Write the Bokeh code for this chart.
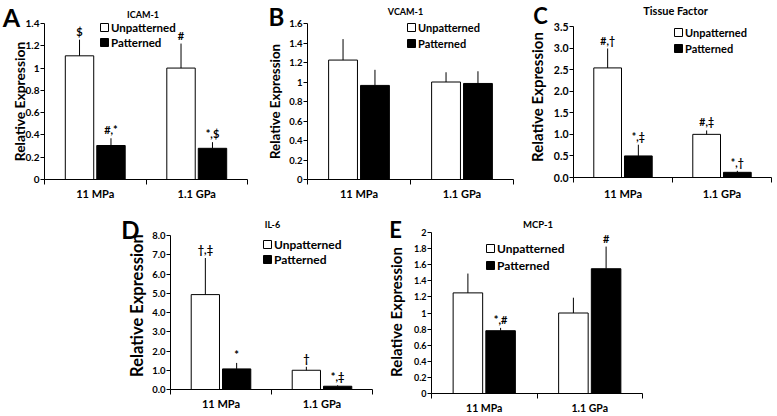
import math
from bokeh.plotting import figure
from bokeh.models import Range1d, FixedTicker, Label, Legend, LegendItem, Spacer
from bokeh.layouts import row, column
from bokeh.embed import file_html
from bokeh.resources import INLINE
from bokeh.core.properties import value

FONT = "Lato"

groups = ["11 MPa", "1.1 GPa"]
series = ["Unpatterned", "Patterned"]
ylab_text = "Relative Expression"

# A: ICAM-1
icam_unp = [1.11, 1.00]
icam_unp_err = [0.145, 0.22]
icam_pat = [0.305, 0.28]
icam_pat_err = [0.065, 0.055]
icam_unp_sig = ["$", "#"]
icam_pat_sig = ["#,*", "*,$"]
icam_yticks = [0, 0.2, 0.4, 0.6, 0.8, 1.0, 1.2, 1.4]
icam_ylabels = ["0", "0.2", "0.4", "0.6", "0.8", "1", "1.2", "1.4"]

# B: VCAM-1
vcam_unp = [1.225, 1.00]
vcam_unp_err = [0.215, 0.10]
vcam_pat = [0.965, 0.985]
vcam_pat_err = [0.16, 0.125]
vcam_unp_sig = ["", ""]
vcam_pat_sig = ["", ""]
vcam_yticks = [0, 0.2, 0.4, 0.6, 0.8, 1.0, 1.2, 1.4, 1.6]
vcam_ylabels = ["0", "0.2", "0.4", "0.6", "0.8", "1", "1.2", "1.4", "1.6"]

# C: Tissue Factor
tf_unp = [2.54, 1.00]
tf_unp_err = [0.45, 0.09]
tf_pat = [0.50, 0.12]
tf_pat_err = [0.26, 0.035]
tf_unp_sig = ["#,\u2020", "#,\u2021"]
tf_pat_sig = ["*,\u2021", "*,\u2020"]
tf_yticks = [0, 0.5, 1.0, 1.5, 2.0, 2.5, 3.0, 3.5]
tf_ylabels = ["0.0", "0.5", "1.0", "1.5", "2.0", "2.5", "3.0", "3.5"]

# D: IL-6
il6_unp = [4.93, 1.00]
il6_unp_err = [1.90, 0.18]
il6_pat = [1.07, 0.17]
il6_pat_err = [0.31, 0.05]
il6_unp_sig = ["\u2020,\u2021", "\u2020"]
il6_pat_sig = ["*", "*,\u2021"]
il6_yticks = [0, 1, 2, 3, 4, 5, 6, 7, 8]
il6_ylabels = ["0.0", "1.0", "2.0", "3.0", "4.0", "5.0", "6.0", "7.0", "8.0"]

# E: MCP-1
mcp_unp = [1.25, 1.00]
mcp_unp_err = [0.24, 0.19]
mcp_pat = [0.78, 1.55]
mcp_pat_err = [0.035, 0.275]
mcp_unp_sig = ["", ""]
mcp_pat_sig = ["*,#", "#"]
mcp_yticks = [0, 0.2, 0.4, 0.6, 0.8, 1.0, 1.2, 1.4, 1.6, 1.8, 2.0]
mcp_ylabels = ["0", "0.2", "0.4", "0.6", "0.8", "1", "1.2", "1.4", "1.6", "1.8", "2"]


def panel(letter, title, unp, unp_err, pat, pat_err, unp_sig, pat_sig, yticks, ylabels, s):
    ymax = yticks[-1]
    n = len(groups)
    W, H = s["size"]
    bl, br, bt, bb = s["box"]          # plot box inside the canvas (px)
    kx = (W - bl - br) / n             # px per category
    ky = (H - bt - bb) / ymax          # px per unit
    xr = Range1d(-bl / kx, n + br / kx)
    yr = Range1d(-bb / ky, ymax + bt / ky)
    p = figure(width=W, height=H, x_range=xr, y_range=yr,
               output_backend="svg", toolbar_location=None,
               min_border=0, min_border_left=0, min_border_right=0,
               min_border_top=0, min_border_bottom=0)
    p.title.visible = False
    p.outline_line_color = None
    p.xgrid.visible = False
    p.ygrid.visible = False
    p.background_fill_color = "white"
    p.border_fill_color = "white"

    off, bw = 0.155, 0.28
    xu = [i + 0.5 - off for i in range(n)]
    xp = [i + 0.5 + off for i in range(n)]
    tu = [v + e for v, e in zip(unp, unp_err)]
    tp = [v + e for v, e in zip(pat, pat_err)]

    ru = p.vbar(x=xu, top=unp, width=bw, bottom=0, fill_color="white", line_color="black", line_width=1)
    rp = p.vbar(x=xp, top=pat, width=bw, bottom=0, fill_color="black", line_color="black", line_width=1)
    p.segment(x0=xu, y0=unp, x1=xu, y1=tu, line_color="black", line_width=1)
    p.segment(x0=xp, y0=pat, x1=xp, y1=tp, line_color="black", line_width=1)
    for xs, ts, sig in ((xu, tu, unp_sig), (xp, tp, pat_sig)):
        p.text(x=xs, y=ts, text=sig, text_align="center", text_baseline="bottom", y_offset=-2,
               text_font=value(FONT), text_font_style="bold", text_font_size=s["sig_fs"],
               text_color="black")

    # x axis, drawn at y = 0
    xa = p.xaxis[0]
    xa.fixed_location = 0
    xa.bounds = (0, n)
    xa.ticker = FixedTicker(ticks=[i + 0.5 for i in range(n)], minor_ticks=list(range(n + 1)))
    xa.major_label_overrides = {i + 0.5: g for i, g in enumerate(groups)}
    xa.major_tick_line_color = None
    xa.major_tick_out = 0
    xa.major_tick_in = 0
    xa.minor_tick_out = 5
    xa.minor_tick_in = 0
    xa.minor_tick_line_color = "black"
    xa.axis_line_color = "black"
    xa.major_label_standoff = s["x_standoff"]
    xa.major_label_text_font = FONT
    xa.major_label_text_font_style = "bold"
    xa.major_label_text_font_size = s["x_fs"]
    xa.major_label_text_color = "black"

    # y axis, drawn at x = 0
    ya = p.yaxis[0]
    ya.fixed_location = 0
    ya.bounds = (0, ymax)
    ya.ticker = FixedTicker(ticks=yticks)
    ya.major_label_overrides = dict(zip(yticks, ylabels))
    ya.major_tick_out = 4
    ya.major_tick_in = 0
    ya.minor_tick_line_color = None
    ya.axis_line_color = "black"
    ya.major_tick_line_color = "black"
    ya.major_label_standoff = 1
    ya.major_label_text_font = FONT
    ya.major_label_text_font_style = "bold"
    ya.major_label_text_font_size = s["y_fs"]
    ya.major_label_text_color = "black"

    # y label, panel letter and title
    p.add_layout(Label(x=0, y=ymax / 2, x_offset=s["ylab"][0], y_offset=s["ylab"][1],
                       text=ylab_text, angle=math.pi / 2, text_align="center", text_baseline="middle",
                       text_font=FONT, text_font_style="bold", text_font_size=s["ylab_fs"],
                       text_color="black"))
    p.add_layout(Label(x=0, y=ymax, x_offset=s["letter"][0], y_offset=s["letter"][1],
                       text=letter, text_align="center", text_baseline="middle",
                       text_font=FONT, text_font_style="bold", text_font_size=s["letter_fs"],
                       text_color="black"))
    p.add_layout(Label(x=n / 2, y=ymax, x_offset=s["title"][0], y_offset=s["title"][1],
                       text=title, text_align="center", text_baseline="middle",
                       text_font=FONT, text_font_style="bold", text_font_size=s["title_fs"],
                       text_color="black"))

    # legend (location is relative to the frame bottom-left, which is the canvas here)
    lx, r1, pitch = s["legend"]
    leg_h = 2 * pitch
    ly = H - (bt + r1 - pitch / 2) - leg_h
    legend = Legend(items=[LegendItem(label=series[0], renderers=[ru]),
                           LegendItem(label=series[1], renderers=[rp])],
                    location=(bl + lx - 1, ly), orientation="vertical",
                    glyph_width=10, glyph_height=10, label_height=pitch, label_standoff=2,
                    spacing=0, padding=0, margin=0,
                    border_line_color=None, background_fill_alpha=0,
                    label_text_font=FONT, label_text_font_style="bold",
                    label_text_font_size=s["leg_fs"], label_text_color="black",
                    label_text_baseline="middle")
    p.add_layout(legend)
    return p


sA = dict(size=(255, 205), box=(44, 8, 23, 26), x_standoff=2, x_fs="11px", y_fs="10px",
          sig_fs="11px", ylab=(-25, 0), ylab_fs="13.8px", letter=(-33, 7), letter_fs="25px",
          title=(-3, 9), title_fs="9px", legend=(56, 4, 15), leg_fs="11.5px")
sB = dict(size=(260, 205), box=(52, 2, 23, 26), x_standoff=2, x_fs="11px", y_fs="9.5px",
          sig_fs="11px", ylab=(-33, 0), ylab_fs="13.3px", letter=(-31, 7), letter_fs="24px",
          title=(-5, 12), title_fs="9px", legend=(100, 4, 16), leg_fs="11px")
sC = dict(size=(260, 205), box=(58, 4, 26, 28), x_standoff=4, x_fs="11px", y_fs="10.5px",
          sig_fs="10.5px", ylab=(-37, 5), ylab_fs="15px", letter=(-33, 11), letter_fs="22px",
          title=(3, 16), title_fs="11px", legend=(101, 6, 16), leg_fs="11px")
sD = dict(size=(260, 209), box=(55, 3, 30, 25), x_standoff=2, x_fs="11px", y_fs="9.5px",
          sig_fs="11px", ylab=(-34, 7), ylab_fs="16.5px", letter=(-40, 6), letter_fs="24px",
          title=(1, 11), title_fs="9px", legend=(93, 9, 15), leg_fs="12px")
sE = dict(size=(285, 209), box=(56, 18, 27, 21), x_standoff=3, x_fs="10.5px", y_fs="9px",
          sig_fs="11px", ylab=(-36, 1), ylab_fs="15px", letter=(-36, 3), letter_fs="22px",
          title=(1, 8), title_fs="9.5px", legend=(55, 16, 17), leg_fs="12px")

pA = panel("A", "ICAM-1", icam_unp, icam_unp_err, icam_pat, icam_pat_err, icam_unp_sig, icam_pat_sig,
           icam_yticks, icam_ylabels, sA)
pB = panel("B", "VCAM-1", vcam_unp, vcam_unp_err, vcam_pat, vcam_pat_err, vcam_unp_sig, vcam_pat_sig,
           vcam_yticks, vcam_ylabels, sB)
pC = panel("C", "Tissue Factor", tf_unp, tf_unp_err, tf_pat, tf_pat_err, tf_unp_sig, tf_pat_sig,
           tf_yticks, tf_ylabels, sC)
pD = panel("D", "IL-6", il6_unp, il6_unp_err, il6_pat, il6_pat_err, il6_unp_sig, il6_pat_sig,
           il6_yticks, il6_ylabels, sD)
pE = panel("E", "MCP-1", mcp_unp, mcp_unp_err, mcp_pat, mcp_pat_err, mcp_unp_sig, mcp_pat_sig,
           mcp_yticks, mcp_ylabels, sE)

layout = column(row(pA, pB, pC, spacing=0),
                row(Spacer(width=115, height=209), pD, pE, spacing=0),
                spacing=0)

open("out.html", "w").write(file_html(layout, INLINE))
